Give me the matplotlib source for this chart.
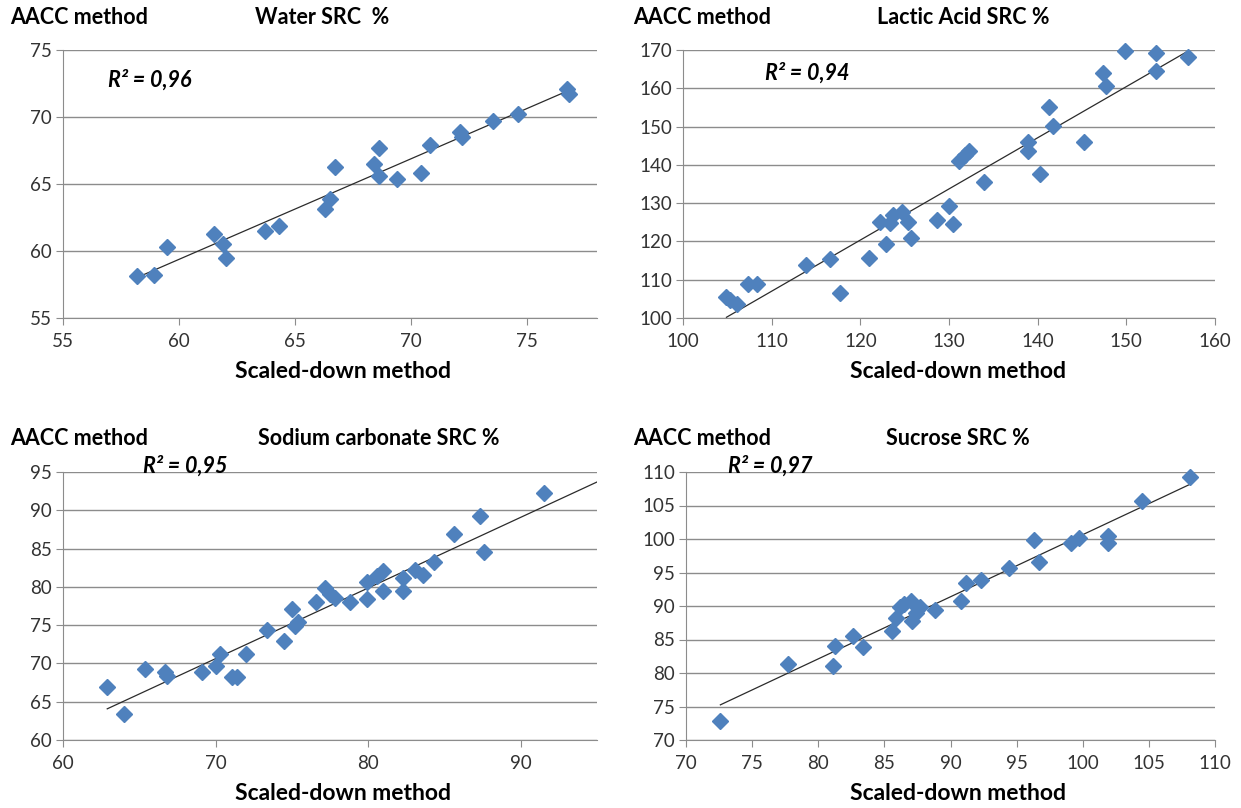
import matplotlib
matplotlib.use('Agg')
import matplotlib.pyplot as plt
import numpy as np

plt.rcParams['font.family'] = ['Lato', 'DejaVu Sans']

# ---------- data ----------
water_x = [58.2, 58.9, 59.5, 61.5, 61.9, 62.0, 63.7, 64.3, 66.3, 66.5, 66.7, 68.4,
           68.6, 68.6, 69.4, 70.4, 70.8, 72.1, 72.2, 73.5, 74.6, 76.7, 76.8]
water_y = [58.1, 58.2, 60.3, 61.3, 60.5, 59.5, 61.5, 61.9, 63.1, 63.9, 66.3, 66.5,
           65.6, 67.7, 65.4, 65.8, 67.9, 68.9, 68.5, 69.7, 70.2, 72.1, 71.7]

lactic_x = [104.9, 105.3, 106.1, 107.3, 108.4, 113.9, 116.6, 117.7, 121.0, 122.2, 122.9,
            123.3, 123.7, 124.7, 125.4, 125.7, 128.6, 130.0, 130.5, 131.1, 131.8, 132.2,
            133.9, 138.9, 138.9, 140.3, 141.3, 141.7, 145.2, 147.4, 147.7, 149.8, 153.4,
            153.4, 156.9]
lactic_y = [105.6, 104.8, 103.7, 108.9, 108.9, 113.8, 115.4, 106.5, 115.6, 125.1, 119.4,
            124.9, 126.8, 127.8, 125.1, 120.8, 125.5, 129.2, 124.5, 141.1, 142.7, 143.5,
            135.5, 145.9, 143.5, 137.7, 155.1, 150.1, 145.9, 163.9, 160.6, 169.8, 169.3,
            164.5, 168.1]

sodium_x = [62.9, 64.0, 65.4, 66.7, 66.8, 69.1, 70.0, 70.3, 71.1, 71.4, 72.0, 73.4,
            74.5, 75.0, 75.2, 75.4, 76.6, 77.2, 77.5, 77.8, 78.8, 79.9, 79.9, 80.6,
            81.0, 81.0, 82.3, 82.3, 83.1, 83.6, 84.3, 85.6, 87.3, 87.6, 91.5]
sodium_y = [66.9, 63.4, 69.3, 68.9, 68.4, 68.9, 69.6, 71.2, 68.2, 68.2, 71.2, 74.4,
            72.9, 77.1, 74.9, 75.4, 78.0, 79.8, 79.1, 78.6, 78.0, 80.6, 78.4, 81.4,
            82.1, 79.5, 81.1, 79.5, 82.2, 81.5, 83.3, 86.9, 89.3, 84.6, 92.3]

sucrose_x = [72.6, 77.7, 81.1, 81.3, 82.6, 83.4, 85.6, 85.9, 86.2, 86.5, 87.0, 87.1,
             87.4, 87.7, 88.8, 90.8, 91.2, 92.3, 94.4, 96.3, 96.7, 99.1, 99.7, 101.9,
             101.9, 104.5, 108.1]
sucrose_y = [72.8, 81.3, 81.0, 84.0, 85.5, 83.9, 86.3, 88.2, 89.9, 90.3, 90.8, 87.8,
             89.0, 89.8, 89.4, 90.8, 93.4, 93.9, 95.7, 99.8, 96.6, 99.4, 100.2, 100.4,
             99.4, 105.6, 109.2]

titles = ['Water SRC  %', 'Lactic Acid SRC %', 'Sodium carbonate SRC %', 'Sucrose SRC %']
r2_labels = ['R² = 0,96', 'R² = 0,94', 'R² = 0,95', 'R² = 0,97']
xs = [water_x, lactic_x, sodium_x, sucrose_x]
ys = [water_y, lactic_y, sodium_y, sucrose_y]
xlims = [(55, 78), (100, 160), (60, 95), (70, 110)]
ylims = [(55, 75), (100, 170), (60, 95), (70, 110)]
xsteps = [5, 10, 10, 5]
ysteps = [5, 10, 5, 5]

# ---------- layout (pixels) ----------
W, H = 1241, 808
fig = plt.figure(figsize=(W / 100, H / 100), dpi=100)

# left, right, top, bottom of each plot area
boxes = [(63, 597, 50, 318), (683, 1215, 50, 318),
         (63, 597, 472, 740), (686, 1215, 472, 740)]
head_left = [10, 633, 10, 633]
head_y = [17, 17, 438, 438]
title_cx = [322, 963, 379, 958]
r2_pos = [(108, 80), (765, 73), (143, 466), (728, 466)]
xlabel_pos = [(343, 372), (958, 372), (343, 793), (958, 793)]
trend_end = [None, None, 95, None]

blue = '#4F81BD'
grid_c = '#8C8C8C'

for i in range(4):
    l, r, t, b = boxes[i]
    ax = fig.add_axes([l / W, 1 - b / H, (r - l) / W, (b - t) / H])
    x = np.array(xs[i])
    y = np.array(ys[i])

    k, c = np.polyfit(x, y, 1)
    x_end = trend_end[i] if trend_end[i] else x.max()
    tx = np.array([x.min(), x_end])
    ax.plot(tx, k * tx + c, color='#2b2b2b', lw=0.9, zorder=2)

    ax.plot(x, y, 'D', color=blue, ms=8.5, mec=blue, clip_on=False, zorder=3)

    ax.set_xlim(*xlims[i])
    ax.set_ylim(*ylims[i])
    ax.set_xticks(np.arange(xlims[i][0], xlims[i][1] + 0.01, xsteps[i]))
    ax.set_yticks(np.arange(ylims[i][0], ylims[i][1] + 0.01, ysteps[i]))
    ax.yaxis.grid(True, color=grid_c, lw=1.0)
    ax.set_axisbelow(True)
    for s in ['top', 'right']:
        ax.spines[s].set_visible(False)
    for s in ['left', 'bottom']:
        ax.spines[s].set_color(grid_c)
    ax.tick_params(axis='both', colors=grid_c, labelcolor='#333333',
                   labelsize=13.5, length=5, direction='out')
    ax.tick_params(axis='x', pad=6)
    ax.tick_params(axis='y', pad=3)

    fig.text(head_left[i] / W, 1 - head_y[i] / H, 'AACC method', fontsize=15.5,
             fontweight='bold', ha='left', va='center')
    fig.text(title_cx[i] / W, 1 - head_y[i] / H, titles[i], fontsize=15.5,
             fontweight='bold', ha='center', va='center')
    fig.text(r2_pos[i][0] / W, 1 - r2_pos[i][1] / H, r2_labels[i], fontsize=15.5,
             fontweight='bold', fontstyle='italic', ha='left', va='center')
    fig.text(xlabel_pos[i][0] / W, 1 - xlabel_pos[i][1] / H, 'Scaled-down method',
             fontsize=16.5, fontweight='bold', ha='center', va='center')

fig.savefig('out.png', dpi=100)
